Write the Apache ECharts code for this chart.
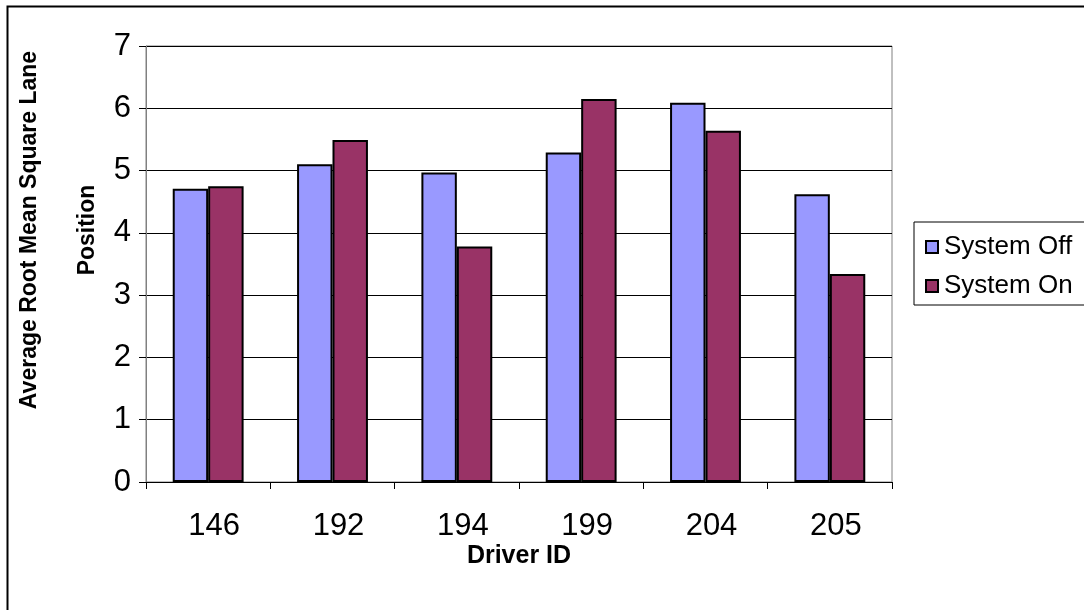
<!DOCTYPE html>
<html>
<head>
<meta charset="utf-8">
<script src="https://cdn.jsdelivr.net/npm/echarts@6/dist/echarts.min.js"></script>
<style>html,body{margin:0;padding:0;background:#fff}#c{width:1084px;height:610px}</style>
</head>
<body>
<div id="c"></div>
<script>
const categories = ['146', '192', '194', '199', '204', '205'];
const systemOff = [4.71, 5.10, 4.97, 5.29, 6.09, 4.62];
const systemOn = [4.75, 5.49, 3.78, 6.15, 5.64, 3.34];
const seriesNames = ['System Off', 'System On'];
const yTitleLines = ['Average Root Mean Square Lane', 'Position'];
const xTitle = 'Driver ID';

const FONT = '"Liberation Sans", Arial, sans-serif';
const chart = echarts.init(document.getElementById('c'), null, {renderer: 'canvas'});
chart.setOption({
  animation: false,
  backgroundColor: '#fff',
  textStyle: {fontFamily: FONT},
  grid: {left: 146, right: 192, top: 46, bottom: 128, show: true, borderColor: '#808080', borderWidth: 1, backgroundColor: 'transparent'},
  legend: {
    orient: 'vertical', left: 914, top: 222,
    padding: [12, 60, 6, 11], itemGap: 13,
    itemWidth: 12, itemHeight: 12,
    borderColor: '#000', borderWidth: 1,
    textStyle: {fontFamily: FONT, fontSize: 26, color: '#000', padding: [0, 0, 0, 1]},
    data: seriesNames.map(n => ({name: n, icon: 'rect'}))
  },
  xAxis: {
    type: 'category', data: categories,
    axisLine: {show: true, lineStyle: {color: '#000', width: 1}},
    axisTick: {show: true, length: 7, lineStyle: {color: '#000'}},
    axisLabel: {fontFamily: FONT, fontSize: 31, color: '#000', margin: 29, padding: [0, 0, 0, 12]},
    name: xTitle, nameLocation: 'middle', nameGap: 62, nameMoveOverlap: false,
    nameTextStyle: {fontFamily: FONT, fontSize: 25, fontWeight: 'bold', color: '#000'}
  },
  yAxis: {
    type: 'value', min: 0, max: 7, interval: 1,
    axisLine: {show: true, lineStyle: {color: '#808080', width: 1}},
    axisTick: {show: true, length: 7, lineStyle: {color: '#000'}},
    axisLabel: {fontFamily: FONT, fontSize: 31, color: '#000', margin: 15},
    splitLine: {show: true, lineStyle: {color: '#000', width: 1}}
  },
  series: [
    {name: seriesNames[0], type: 'bar', data: systemOff, barGap: '0%', barCategoryGap: '43%',
     itemStyle: {color: '#9999FF', borderColor: '#000', borderWidth: 2}},
    {name: seriesNames[1], type: 'bar', data: systemOn, barGap: '0%', barCategoryGap: '43%',
     itemStyle: {color: '#993366', borderColor: '#000', borderWidth: 2}}
  ],
  graphic: [
    {type: 'rect', left: 5, top: 4, shape: {x: 0, y: 0, width: 1200, height: 700}, style: {fill: 'none', stroke: '#000', lineWidth: 2}, silent: true, z: 100},
    {type: 'text', x: 30, y: 230, rotation: Math.PI / 2, style: {text: yTitleLines[0], font: 'bold 23px ' + FONT, fill: '#000', align: 'center', verticalAlign: 'middle'}},
    {type: 'text', x: 88, y: 230, rotation: Math.PI / 2, style: {text: yTitleLines[1], font: 'bold 23px ' + FONT, fill: '#000', align: 'center', verticalAlign: 'middle'}}
  ]
});
</script>
</body>
</html>
